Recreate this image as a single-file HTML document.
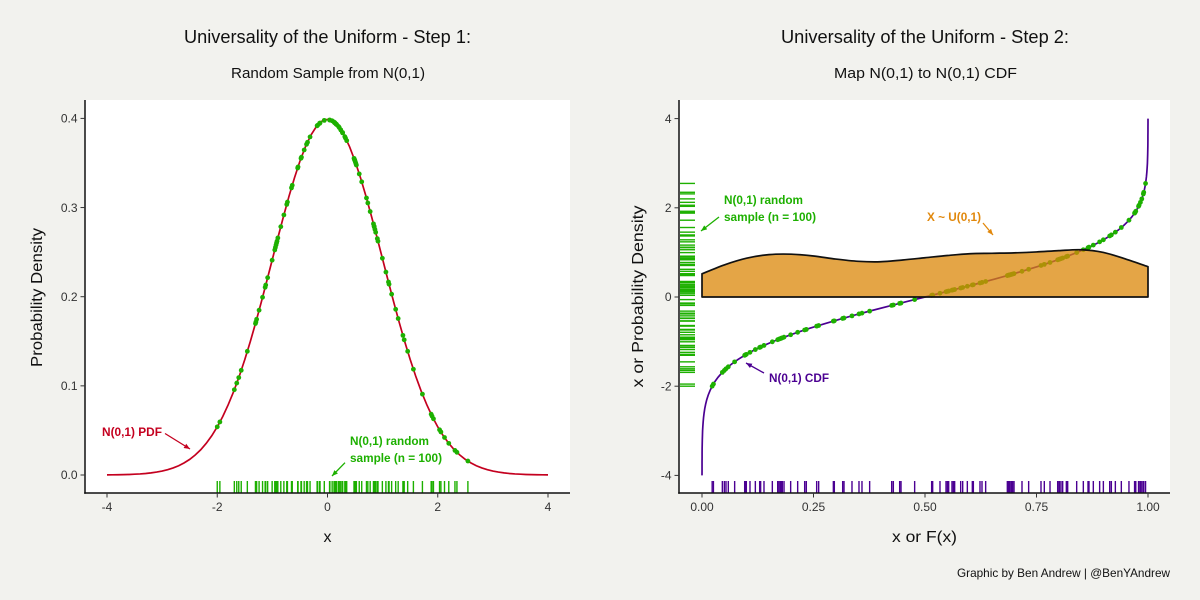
<!DOCTYPE html>
<html lang="en">
<head>
<meta charset="utf-8">
<title>Universality of the Uniform</title>
<style>
html,body{margin:0;padding:0;width:1200px;height:600px;background:#F2F2EE;overflow:hidden}
svg{display:block;font-family:"Liberation Sans",sans-serif}
.tick-label{font-size:12px;fill:#333}
.axis-title{font-size:16px;fill:#111}
.note{font-size:11.5px;font-weight:bold}
</style>
</head>
<body>
<svg id="chart" width="1200" height="600" viewBox="0 0 1200 600" xmlns="http://www.w3.org/2000/svg">
  <defs>
    <marker id="head-red" markerUnits="userSpaceOnUse" markerWidth="7" markerHeight="6" refX="6" refY="2.5" orient="auto"><path d="M0,0L6,2.5L0,5Z" fill="#C4001F"/></marker>
    <marker id="head-green" markerUnits="userSpaceOnUse" markerWidth="7" markerHeight="6" refX="6" refY="2.5" orient="auto"><path d="M0,0L6,2.5L0,5Z" fill="#1DB000"/></marker>
    <marker id="head-purple" markerUnits="userSpaceOnUse" markerWidth="7" markerHeight="6" refX="6" refY="2.5" orient="auto"><path d="M0,0L6,2.5L0,5Z" fill="#4B0092"/></marker>
    <marker id="head-orange" markerUnits="userSpaceOnUse" markerWidth="7" markerHeight="6" refX="6" refY="2.5" orient="auto"><path d="M0,0L6,2.5L0,5Z" fill="#E1880C"/></marker>
  </defs>

  <rect x="85" y="100" width="485" height="393" fill="#fff"/>
  <rect x="679" y="100" width="491" height="393" fill="#fff"/>

  <text x="184" y="43" font-size="18" fill="#111" textLength="287" lengthAdjust="spacingAndGlyphs">Universality of the Uniform - Step 1:</text>
  <text x="231" y="78" font-size="15" fill="#111" textLength="194" lengthAdjust="spacingAndGlyphs">Random Sample from N(0,1)</text>
  <text x="781" y="43" font-size="18" fill="#111" textLength="288" lengthAdjust="spacingAndGlyphs">Universality of the Uniform - Step 2:</text>
  <text x="834" y="78" font-size="15" fill="#111" textLength="183" lengthAdjust="spacingAndGlyphs">Map N(0,1) to N(0,1) CDF</text>

  <g id="left-marks"></g>
  <g id="right-marks"></g>

  <line x1="85" y1="100" x2="85" y2="493.8" stroke="#111" stroke-width="1.5"/>
  <line x1="84.2" y1="493" x2="570" y2="493" stroke="#111" stroke-width="1.5"/>
  <line x1="679" y1="100" x2="679" y2="493.8" stroke="#111" stroke-width="1.5"/>
  <line x1="678.2" y1="493" x2="1170" y2="493" stroke="#111" stroke-width="1.5"/>

  <text class="axis-title" transform="translate(42,297.5) rotate(-90)" text-anchor="middle" textLength="139" lengthAdjust="spacingAndGlyphs">Probability Density</text>
  <text class="axis-title" x="327.5" y="542" text-anchor="middle">x</text>
  <text class="axis-title" transform="translate(643,296.5) rotate(-90)" text-anchor="middle" textLength="182" lengthAdjust="spacingAndGlyphs">x or Probability Density</text>
  <text class="axis-title" x="924.5" y="542" text-anchor="middle" textLength="65" lengthAdjust="spacingAndGlyphs">x or F(x)</text>
  <text x="957" y="577" font-size="12" fill="#111" textLength="213" lengthAdjust="spacingAndGlyphs">Graphic by Ben Andrew | @BenYAndrew</text>

  <g>
    <text class="note" x="102" y="436" fill="#C4001F" textLength="60" lengthAdjust="spacingAndGlyphs">N(0,1) PDF</text>
    <line x1="165" y1="433.5" x2="190" y2="449" stroke="#C4001F" stroke-width="1.3" marker-end="url(#head-red)"/>
  </g>
  <g>
    <text class="note" x="350" y="445" fill="#1DB000" textLength="79" lengthAdjust="spacingAndGlyphs">N(0,1) random</text>
    <text class="note" x="350" y="462" fill="#1DB000" textLength="92" lengthAdjust="spacingAndGlyphs">sample (n = 100)</text>
    <line x1="345" y1="462.7" x2="332" y2="476" stroke="#1DB000" stroke-width="1.3" marker-end="url(#head-green)"/>
  </g>
  <g>
    <text class="note" x="724" y="204" fill="#1DB000" textLength="79" lengthAdjust="spacingAndGlyphs">N(0,1) random</text>
    <text class="note" x="724" y="221" fill="#1DB000" textLength="92" lengthAdjust="spacingAndGlyphs">sample (n = 100)</text>
    <line x1="719" y1="217" x2="701" y2="231" stroke="#1DB000" stroke-width="1.3" marker-end="url(#head-green)"/>
  </g>
  <g>
    <text class="note" x="927" y="221" fill="#E1880C" textLength="54" lengthAdjust="spacingAndGlyphs">X ~ U(0,1)</text>
    <line x1="983" y1="223" x2="993" y2="235" stroke="#E1880C" stroke-width="1.3" marker-end="url(#head-orange)"/>
  </g>
  <g>
    <text class="note" x="769" y="382" fill="#4B0092" textLength="60" lengthAdjust="spacingAndGlyphs">N(0,1) CDF</text>
    <line x1="764" y1="373" x2="746" y2="363" stroke="#4B0092" stroke-width="1.3" marker-end="url(#head-purple)"/>
  </g>
</svg>

<script>
// Tick labels
const leftXTicks = [-4, -2, 0, 2, 4];
const leftYTicks = [0, 0.1, 0.2, 0.3, 0.4];
const rightXTicks = [0, 0.25, 0.5, 0.75, 1];
const rightYTicks = [-4, -2, 0, 2, 4];

// Curve tables: x in steps of 0.1 from -4 to 4
const curveX = [-4,-3.9,-3.8,-3.7,-3.6,-3.5,-3.4,-3.3,-3.2,-3.1,-3,-2.9,-2.8,-2.7,-2.6,-2.5,-2.4,-2.3,-2.2,-2.1,-2,-1.9,-1.8,-1.7,-1.6,-1.5,-1.4,-1.3,-1.2,-1.1,-1,-0.9,-0.8,-0.7,-0.6,-0.5,-0.4,-0.3,-0.2,-0.1,0,0.1,0.2,0.3,0.4,0.5,0.6,0.7,0.8,0.9,1,1.1,1.2,1.3,1.4,1.5,1.6,1.7,1.8,1.9,2,2.1,2.2,2.3,2.4,2.5,2.6,2.7,2.8,2.9,3,3.1,3.2,3.3,3.4,3.5,3.6,3.7,3.8,3.9,4];
const pdfValues = [0.0001,0.0002,0.0003,0.0004,0.0006,0.0009,0.0012,0.0017,0.0024,0.0033,0.0044,0.006,0.0079,0.0104,0.0136,0.0175,0.0224,0.0283,0.0355,0.044,0.054,0.0656,0.079,0.094,0.1109,0.1295,0.1497,0.1714,0.1942,0.2179,0.242,0.2661,0.2897,0.3123,0.3332,0.3521,0.3683,0.3814,0.391,0.397,0.3989,0.397,0.391,0.3814,0.3683,0.3521,0.3332,0.3123,0.2897,0.2661,0.242,0.2179,0.1942,0.1714,0.1497,0.1295,0.1109,0.094,0.079,0.0656,0.054,0.044,0.0355,0.0283,0.0224,0.0175,0.0136,0.0104,0.0079,0.006,0.0044,0.0033,0.0024,0.0017,0.0012,0.0009,0.0006,0.0004,0.0003,0.0002,0.0001];
const cdfValues = [0,0.0001,0.0001,0.0001,0.0002,0.0002,0.0003,0.0005,0.0007,0.001,0.0013,0.0019,0.0026,0.0035,0.0047,0.0062,0.0082,0.0107,0.0139,0.0179,0.0228,0.0287,0.0359,0.0446,0.0548,0.0668,0.0808,0.0968,0.1151,0.1357,0.1587,0.1841,0.2119,0.242,0.2743,0.3085,0.3446,0.3821,0.4207,0.4602,0.5,0.5398,0.5793,0.6179,0.6554,0.6915,0.7257,0.758,0.7881,0.8159,0.8413,0.8643,0.8849,0.9032,0.9192,0.9332,0.9452,0.9554,0.9641,0.9713,0.9772,0.9821,0.9861,0.9893,0.9918,0.9938,0.9953,0.9965,0.9974,0.9981,0.9987,0.999,0.9993,0.9995,0.9997,0.9998,0.9998,0.9999,0.9999,1,1];

// The 100 sampled values, expressed on the F(x) scale as read from the rugs
const sampleF = [0.0228,0.0256,0.0456,0.0501,0.0538,0.059,0.0732,0.0957,0.097,0.0994,0.1076,0.1196,0.1293,0.1315,0.139,0.1577,0.1697,0.1726,0.1756,0.178,0.1801,0.1839,0.1988,0.2145,0.2302,0.2339,0.2571,0.2616,0.2945,0.2967,0.3154,0.3184,0.3363,0.352,0.3587,0.3759,0.4253,0.429,0.4432,0.4462,0.4768,0.5149,0.5172,0.5336,0.5471,0.5501,0.5515,0.5531,0.5605,0.5635,0.5665,0.58,0.5845,0.5949,0.6061,0.6084,0.6233,0.6278,0.636,0.6846,0.6876,0.688,0.6906,0.6936,0.6966,0.6996,0.7175,0.7324,0.7601,0.7675,0.7803,0.7975,0.8004,0.8015,0.8049,0.8087,0.8169,0.8199,0.8401,0.855,0.8655,0.8677,0.8774,0.8916,0.8999,0.9141,0.9178,0.9268,0.9402,0.9573,0.9699,0.971,0.9726,0.9788,0.98,0.983,0.9861,0.9896,0.9905,0.9945];

// Density of the transformed sample, at F = 0, 0.05, ... 1
const densityF = [0,0.05,0.1,0.15,0.2,0.25,0.3,0.35,0.4,0.45,0.5,0.55,0.6,0.65,0.7,0.75,0.8,0.85,0.9,0.95,1];
const densityValues = [0.52,0.72,0.87,0.95,0.96,0.92,0.85,0.8,0.79,0.83,0.88,0.93,0.97,0.98,0.99,1.01,1.04,1.06,1,0.85,0.68];

// Axis functions
function xLeft(v){ return 327.5 + v * 55.125; }
function yLeft(v){ return 475 - v * 891.5; }
function xRight(v){ return 702 + v * 446; }
function yRight(v){ return 297 - v * 44.6; }

const SVG_NS = 'http://www.w3.org/2000/svg';
const GREEN = '#1DB000', RED = '#C4001F', PURPLE = '#4B0092';

function make(parent, tag, attrs){
  const el = document.createElementNS(SVG_NS, tag);
  for (const k in attrs) el.setAttribute(k, attrs[k]);
  parent.appendChild(el);
  return el;
}
function lookup(v, xs, ys){
  if (v <= xs[0]) return ys[0];
  for (let i = 1; i < xs.length; i++) {
    if (v <= xs[i]) {
      const span = xs[i] - xs[i-1];
      return span === 0 ? ys[i] : ys[i-1] + (v - xs[i-1]) / span * (ys[i] - ys[i-1]);
    }
  }
  return ys[ys.length-1];
}
function smoothSegments(pts){
  let d = '';
  for (let i = 0; i < pts.length - 1; i++) {
    const p0 = pts[Math.max(i-1,0)], p1 = pts[i], p2 = pts[i+1], p3 = pts[Math.min(i+2,pts.length-1)];
    d += 'C' + (p1[0]+(p2[0]-p0[0])/6).toFixed(2) + ',' + (p1[1]+(p2[1]-p0[1])/6).toFixed(2) + ' ' +
         (p2[0]-(p3[0]-p1[0])/6).toFixed(2) + ',' + (p2[1]-(p3[1]-p1[1])/6).toFixed(2) + ' ' +
         p2[0].toFixed(2) + ',' + p2[1].toFixed(2);
  }
  return d;
}

const leftG = document.getElementById('left-marks');
const rightG = document.getElementById('right-marks');
const sampleX = sampleF.map(function(f){ return lookup(f, cdfValues, curveX); });

// PDF curve
const pdfPath = make(leftG, 'path', {
  d: 'M' + curveX.map(function(x,i){ return xLeft(x).toFixed(2) + ',' + yLeft(pdfValues[i]).toFixed(2); }).join('L'),
  fill: 'none', stroke: RED, 'stroke-width': 1.7
});



// PDF sample points and rug
sampleX.forEach(function(x){
  const dot = make(leftG, 'circle', {
    cx: xLeft(x).toFixed(2), cy: yLeft(lookup(x, curveX, pdfValues)).toFixed(2), r: 2.4, fill: GREEN
  });
  
  
  const rug = make(leftG, 'line', {
    x1: xLeft(x).toFixed(2), x2: xLeft(x).toFixed(2), y1: 481, y2: 493, stroke: GREEN, 'stroke-width': 1.4
  });
  
  
});

// CDF curve
const cdfPath = make(rightG, 'path', {
  d: 'M' + curveX.map(function(x,i){ return xRight(cdfValues[i]).toFixed(2) + ',' + yRight(x).toFixed(2); }).join('L'),
  fill: 'none', stroke: PURPLE, 'stroke-width': 1.7
});



// CDF sample points and rugs
sampleF.forEach(function(f, i){
  const dot = make(rightG, 'circle', {
    cx: xRight(f).toFixed(2), cy: yRight(sampleX[i]).toFixed(2), r: 2.4, fill: GREEN
  });
  
  
  const rugY = make(rightG, 'line', {
    x1: 680, x2: 695, y1: yRight(sampleX[i]).toFixed(2), y2: yRight(sampleX[i]).toFixed(2), stroke: GREEN, 'stroke-width': 1.4
  });
  
  
  const rugX = make(rightG, 'line', {
    x1: xRight(f).toFixed(2), x2: xRight(f).toFixed(2), y1: 481, y2: 493, stroke: PURPLE, 'stroke-width': 1.4
  });
  
  
});

// Uniform density, drawn over the curve
const densityPts = densityF.map(function(f,i){ return [xRight(f), yRight(densityValues[i])]; });
const densityPath = make(rightG, 'path', {
  d: 'M' + xRight(densityF[0]).toFixed(2) + ',' + yRight(0).toFixed(2) +
     'L' + densityPts[0][0].toFixed(2) + ',' + densityPts[0][1].toFixed(2) +
     smoothSegments(densityPts) +
     'L' + xRight(densityF[densityF.length-1]).toFixed(2) + ',' + yRight(0).toFixed(2) + 'Z',
  fill: 'rgba(219,135,8,0.75)', stroke: '#111', 'stroke-width': 1.7, 'stroke-linejoin': 'round'
});



// Ticks
function fmt1(v){ return v.toFixed(1); }
function fmt2(v){ return v.toFixed(2); }
function fmt0(v){ return String(v); }
function xTicks(values, scale, format){
  values.forEach(function(v){
    const mark = make(document.getElementById('chart'), 'line', {
      x1: scale(v), x2: scale(v), y1: 493, y2: 497.5, stroke: '#333', 'stroke-width': 1
    });
    
    
    const label = make(document.getElementById('chart'), 'text', {
      x: scale(v), y: 511, 'text-anchor': 'middle', 'class': 'tick-label'
    });
    
    
    label.textContent = format(v);
  });
}
function yTicks(values, scale, format, axisX){
  values.forEach(function(v){
    const mark = make(document.getElementById('chart'), 'line', {
      x1: axisX - 4.5, x2: axisX, y1: scale(v), y2: scale(v), stroke: '#333', 'stroke-width': 1
    });
    
    
    const label = make(document.getElementById('chart'), 'text', {
      x: axisX - 7.5, y: scale(v) + 4.2, 'text-anchor': 'end', 'class': 'tick-label'
    });
    
    
    label.textContent = format(v);
  });
}
xTicks(leftXTicks, xLeft, fmt0);
yTicks(leftYTicks, yLeft, fmt1, 85);
xTicks(rightXTicks, xRight, fmt2);
yTicks(rightYTicks, yRight, fmt0, 679);
</script>
</body>
</html>
